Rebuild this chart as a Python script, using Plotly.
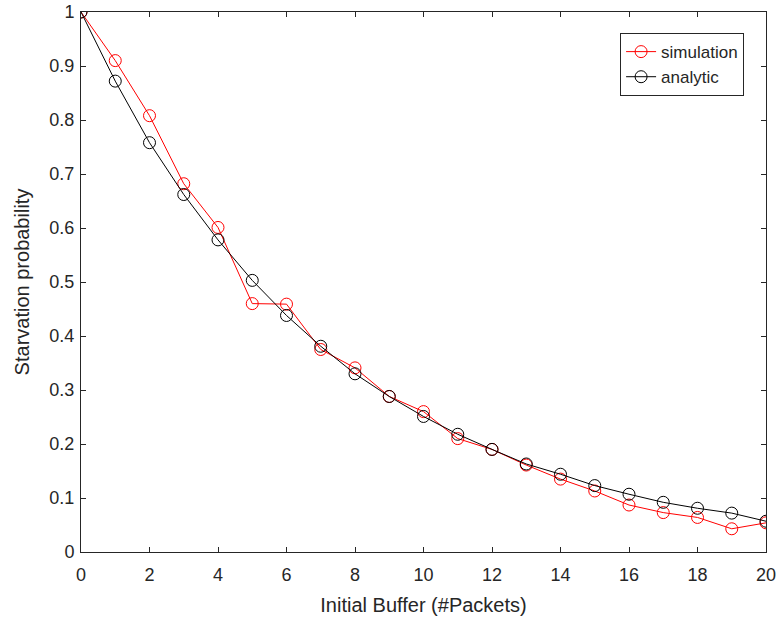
import plotly.graph_objects as go

buffer_packets = list(range(0, 21))
simulation = [1.0, 0.91, 0.808, 0.682, 0.601, 0.46, 0.459, 0.375, 0.341, 0.288, 0.26,
              0.21, 0.19, 0.161, 0.135, 0.113, 0.087, 0.073, 0.064, 0.043, 0.054]
analytic = [1.0, 0.872, 0.758, 0.662, 0.578, 0.503, 0.438, 0.381, 0.33, 0.288, 0.251,
            0.218, 0.19, 0.163, 0.144, 0.123, 0.107, 0.092, 0.081, 0.072, 0.057]
x_ticks = list(range(0, 21, 2))
y_ticks = [round(i * 0.1, 1) for i in range(11)]
y_tick_labels = ["0", "0.1", "0.2", "0.3", "0.4", "0.5", "0.6", "0.7", "0.8", "0.9", "1"]

fig = go.Figure()
fig.add_trace(go.Scatter(x=buffer_packets, y=simulation, mode="lines+markers", name="simulation",
                         line=dict(color="#ff0000", width=1),
                         marker=dict(symbol="circle-open", size=12, color="#ff0000", line=dict(width=1))))
fig.add_trace(go.Scatter(x=buffer_packets, y=analytic, mode="lines+markers", name="analytic",
                         line=dict(color="#000000", width=1),
                         marker=dict(symbol="circle-open", size=12, color="#000000", line=dict(width=1))))

FONT = "Liberation Sans, Arial"
axis_common = dict(showgrid=False, zeroline=False, showline=True, linecolor="#262626", linewidth=1,
                   mirror="allticks", ticks="inside", ticklen=5, tickcolor="#262626",
                   automargin=False, ticklabeloverflow="allow",
                   tickfont=dict(family=FONT, size=18, color="#262626"))

fig.update_layout(
    width=779, height=619,
    margin=dict(l=81, r=13, t=12, b=67),
    paper_bgcolor="white", plot_bgcolor="white",
    font=dict(family=FONT, color="#262626"),
    xaxis=dict(range=[0, 20], tickvals=x_ticks, ticklabelstandoff=6,
               title=dict(text="Initial Buffer (#Packets)", font=dict(size=20, color="#262626"), standoff=14),
               **axis_common),
    yaxis=dict(range=[0, 1], tickvals=y_ticks, ticktext=y_tick_labels, ticklabelstandoff=2,
               title=dict(text="Starvation probability", font=dict(size=20, color="#262626"), standoff=14),
               **axis_common),
    legend=dict(x=0.968, y=0.961, xanchor="right", yanchor="top", bgcolor="white",
                bordercolor="#262626", borderwidth=1,
                font=dict(family=FONT, size=17, color="#262626")),
    showlegend=True,
)

fig.write_html("out.html", config={"displayModeBar": False},
               post_script="document.body.style.margin='0';")
